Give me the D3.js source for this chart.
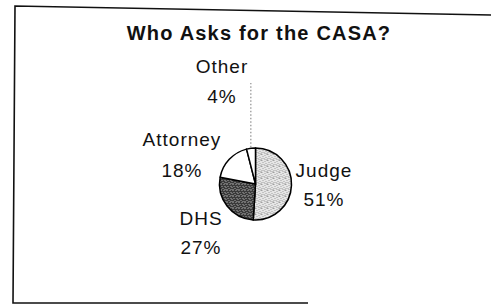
<!DOCTYPE html>
<html><head><meta charset="utf-8">
<script src="https://cdn.jsdelivr.net/npm/d3@7"></script>
<style>html,body{margin:0;padding:0;background:#fff;}svg{display:block;}</style>
</head><body>
<script>
const title = "Who Asks for the CASA?";
const categories = ["Judge", "DHS", "Attorney", "Other"];
const values = [51, 27, 18, 4];
const percentLabels = ["51%", "27%", "18%", "4%"];

const W = 491, H = 307;
const svg = d3.select("body").append("svg").attr("width", W).attr("height", H);

// stipple textures (fixed dot layouts)
const defs = svg.append("defs");
const lightDots = [[0,0],[3,1],[5,0],[1,2],[4,3],[2,4],[5,5],[0,4],[3,5]];
const darkDots = [[1,0],[4,0],[2,2],[5,2],[0,3],[3,4],[1,5],[5,5]];
const p1 = defs.append("pattern").attr("id", "lightStipple").attr("patternUnits", "userSpaceOnUse").attr("width", 6).attr("height", 6);
p1.append("rect").attr("width", 6).attr("height", 6).attr("fill", "#e6e6e6");
lightDots.forEach(([x,y]) => p1.append("rect").attr("x", x).attr("y", y).attr("width", 1).attr("height", 1).attr("fill", "#a0a0a0"));
const p2 = defs.append("pattern").attr("id", "darkStipple").attr("patternUnits", "userSpaceOnUse").attr("width", 6).attr("height", 6);
p2.append("rect").attr("width", 6).attr("height", 6).attr("fill", "#3a3a3a");
darkDots.forEach(([x,y]) => p2.append("rect").attr("x", x).attr("y", y).attr("width", 1).attr("height", 1).attr("fill", "#a8a8a8"));
const fills = ["url(#lightStipple)", "url(#darkStipple)", "#ffffff", "#ffffff"];

// frame (scanned, slightly skewed)
svg.append("path")
  .attr("d", "M491,15 L15,6 L13,303 L308,303")
  .attr("fill", "none").attr("stroke", "#111").attr("stroke-width", 1.6);

svg.append("text").attr("x", 259).attr("y", 40)
  .attr("text-anchor", "middle")
  .attr("font-family", "Liberation Sans, Arial, sans-serif")
  .attr("font-weight", "bold").attr("font-size", 20).attr("letter-spacing", 1.2)
  .attr("fill", "#111").text(title);

const cx = 255.5, cy = 184, r = 36;
const pie = d3.pie().sort(null).value(d => d.v);
const data = categories.map((c, i) => ({ c, v: values[i], p: percentLabels[i], f: fills[i] }));
const arcs = pie(data);
const arc = d3.arc().innerRadius(0).outerRadius(r);

const g = svg.append("g").attr("transform", `translate(${cx},${cy})`);
g.selectAll("path").data(arcs).enter().append("path")
  .attr("d", arc).attr("fill", d => d.data.f)
  .attr("stroke", "#000").attr("stroke-width", 1.5).attr("stroke-linejoin", "round");

// leader line for "Other"
const other = arcs[3];
const mid = (other.startAngle + other.endAngle) / 2;
const lx = cx + Math.sin(mid) * (r + 1);
svg.append("line").attr("x1", lx).attr("x2", lx)
  .attr("y1", cy - Math.cos(mid) * (r + 1)).attr("y2", 83)
  .attr("stroke", "#777").attr("stroke-width", 1).attr("stroke-dasharray", "1.5,2");

// labels
const labelPos = {
  "Judge": [324, 177, 206],
  "DHS": [201, 225, 254],
  "Attorney": [182, 146, 177],
  "Other": [222, 73, 103]
};
arcs.forEach(a => {
  const [x, y1, y2] = labelPos[a.data.c];
  const t = svg.append("text").attr("text-anchor", "middle")
    .attr("font-family", "Liberation Sans, Arial, sans-serif")
    .attr("font-size", 19).attr("letter-spacing", 1).attr("fill", "#111");
  t.append("tspan").attr("x", x).attr("y", y1).text(a.data.c);
  t.append("tspan").attr("x", x).attr("y", y2).text(a.data.p);
});
</script>
</body></html>
